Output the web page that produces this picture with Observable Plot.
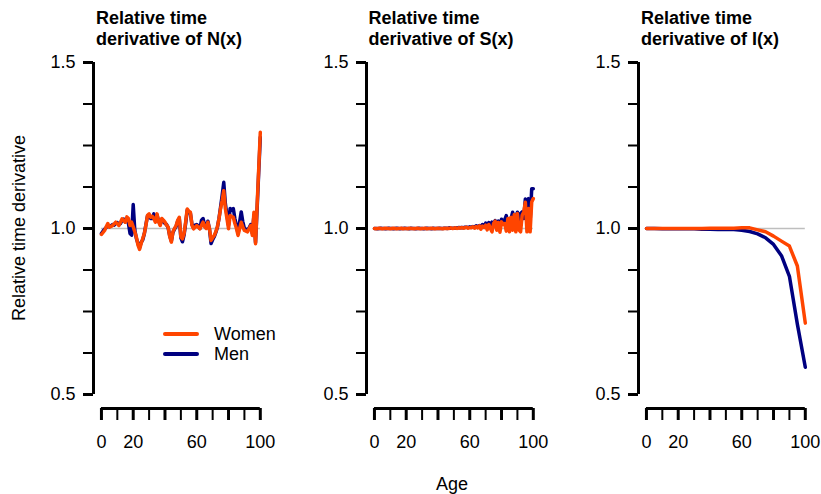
<!DOCTYPE html>
<html>
<head>
<meta charset="utf-8">
<script src="https://cdn.jsdelivr.net/npm/d3@7"></script>
<script src="https://cdn.jsdelivr.net/npm/@observablehq/plot@0.6"></script>
<style>
  body { margin: 0; background: #fff; }
  #wrap { position: relative; width: 821px; height: 494px; overflow: hidden; background: #fff;
          font-family: "Liberation Sans", Arial, sans-serif; color: #000; }
  .panel { position: absolute; top: 0; }
  .title { position: absolute; top: 8px; font-weight: bold; font-size: 18px; line-height: 21px; white-space: nowrap; }
  .ylab { position: absolute; left: 19px; top: 228px; font-size: 18px; line-height: 18px; white-space: nowrap;
          transform: translate(-50%, -50%) rotate(-90deg); }
  .xlab { position: absolute; left: 452px; top: 475px; font-size: 18px; line-height: 18px; transform: translateX(-50%); }
  .leg { position: absolute; font-size: 18px; line-height: 18px; white-space: nowrap; }
  .leg span.ln { position: absolute; left: 0; top: 7px; width: 36px; height: 0; border-top: 4px solid; border-radius: 2px; }
  .leg span.tx { position: absolute; left: 51px; top: 0; }
</style>
</head>
<body>
<div id="wrap"></div>
<script>
// ---------------- data ----------------
const ages = d3.range(0, 101);          // single-year ages, panels N and S
const ages5 = d3.range(0, 101, 5);      // five-year ages, panel I

const nWomen = [
  0.982,0.988,0.994,1.005,1.015,1.004,1.006,1.009,1.014,1.019,
  1.014,1.009,1.019,1.029,1.024,1.019,1.035,1.030,1.009,1.019,
  1.005,0.990,0.974,0.950,0.937,0.955,0.970,0.985,1.010,1.040,
  1.044,1.034,1.037,1.030,1.019,1.044,1.020,1.009,1.030,1.025,
  1.019,1.010,1.004,0.975,0.959,0.990,1.000,1.009,1.025,1.034,
  0.975,0.969,0.984,1.020,1.059,1.052,1.049,1.010,0.999,1.004,
  1.009,1.004,0.999,1.010,1.019,1.005,1.000,1.019,1.000,0.964,
  0.972,0.979,0.990,1.005,1.030,1.060,1.085,1.114,1.060,1.030,
  0.999,1.039,1.036,1.034,1.015,1.000,0.979,1.000,1.019,1.005,
  0.994,0.992,0.990,1.000,1.009,0.979,1.049,0.954,1.070,1.180,
  1.290
];
const nMen = [
  0.985,0.992,0.998,1.003,1.010,1.005,1.008,1.012,1.010,1.016,
  1.018,1.012,1.015,1.025,1.028,1.020,1.030,1.015,0.985,0.980,
  1.072,0.995,0.970,0.955,0.942,0.958,0.966,0.984,1.012,1.038,
  1.040,1.030,1.030,1.044,1.025,1.040,1.022,1.012,1.028,1.022,
  1.015,1.012,1.002,0.978,0.962,0.988,0.998,1.006,1.022,1.030,
  0.972,0.960,0.980,1.015,1.055,1.050,1.045,1.012,1.002,1.010,
  1.012,1.008,1.000,1.025,1.030,1.008,1.004,1.022,0.998,0.955,
  0.966,0.975,0.988,1.004,1.030,1.065,1.100,1.139,1.075,1.040,
  1.010,1.060,1.055,1.060,1.030,1.008,0.985,1.020,1.050,1.020,
  1.000,0.998,0.995,1.002,1.012,0.985,1.040,0.958,1.060,1.170,
  1.275
];
const sWomen = [
  1.000,0.999,1.000,1.001,1.000,0.999,1.000,1.001,1.000,1.000,
  0.999,1.000,1.001,1.000,0.999,1.000,1.000,1.001,0.999,1.000,
  1.000,0.999,1.001,1.000,1.000,0.999,1.000,1.001,1.000,0.999,
  1.000,1.000,1.001,0.999,1.000,1.000,1.001,1.000,0.999,1.000,
  1.001,1.000,1.000,0.999,1.001,1.000,1.001,1.000,1.002,1.000,
  1.001,1.002,1.000,1.002,1.001,1.003,1.001,1.002,1.004,1.001,
  1.003,1.002,1.005,1.001,1.006,1.002,1.008,0.998,1.007,1.003,
  1.010,0.996,1.012,1.000,0.990,1.015,1.022,0.995,1.018,0.989,
  1.020,1.012,1.015,0.992,1.030,0.990,1.034,0.995,1.042,0.990,
  1.045,0.995,0.990,1.040,1.050,1.079,0.990,1.060,0.990,1.080,
  1.090
];
const sMen = [
  1.000,1.000,0.999,1.000,1.001,1.000,1.000,0.999,1.000,1.001,
  1.000,1.000,0.999,1.000,1.001,1.000,0.999,1.000,1.000,1.001,
  1.000,1.000,0.999,1.001,1.000,1.000,0.999,1.000,1.001,1.000,
  1.000,0.999,1.000,1.001,1.000,1.000,0.999,1.001,1.000,1.000,
  1.000,1.001,1.000,1.000,1.001,1.001,1.000,1.002,1.001,1.001,
  1.001,1.002,1.001,1.003,1.002,1.003,1.002,1.004,1.004,1.003,
  1.005,1.004,1.006,1.004,1.008,1.005,1.009,1.004,1.012,1.006,
  1.016,1.008,1.018,1.010,1.019,1.015,1.024,1.012,1.022,1.008,
  1.028,1.018,1.026,1.039,1.012,1.022,1.030,1.049,1.020,1.035,
  1.049,1.020,1.045,1.050,1.030,1.089,1.040,1.090,1.020,1.120,
  1.120
];
const iWomen = [1.000,1.000,1.000,1.000,1.000,1.000,1.000,1.000,1.001,1.001,1.001,
                1.001,1.002,1.002,0.996,0.990,0.977,0.962,0.947,0.887,0.715];
const iMen   = [1.000,1.000,0.999,0.999,0.999,0.999,0.999,0.998,0.998,0.997,0.997,
                0.997,0.995,0.991,0.984,0.972,0.952,0.918,0.856,0.712,0.582];

const panelTitles = ["Relative time\nderivative of N(x)", "Relative time\nderivative of S(x)", "Relative time\nderivative of I(x)"];
const seriesNames = ["Women", "Men"];
const yMajor = [0.5, 1.0, 1.5];
const yMinor = [0.625, 0.75, 0.875, 1.125, 1.25, 1.375];
const xMajor = [0, 20, 40, 60, 80, 100];
const xMinor = [10, 30, 50, 70, 90];
const xLabels = [0, 20, 60, 100];
const yLabel = "Relative time derivative";
const xLabelText = "Age";

// ---------------- style ----------------
const colWomen = "#FF4500";
const colMen = "#000080";
const panelLeft = [0, 272.5, 545];
const W = 276, H = 494;
const yBottom = 0.5 - 14 / 332;

const panels = [
  {x: ages, w: nWomen, m: nMen},
  {x: ages, w: sWomen, m: sMen},
  {x: ages5, w: iWomen, m: iMen}
];

const wrap = document.getElementById("wrap");

panels.forEach((p, i) => {
  const men = p.x.map((a, k) => ({age: a, v: p.m[k]}));
  const women = p.x.map((a, k) => ({age: a, v: p.w[k]}));
  const chart = Plot.plot({
    width: W, height: H,
    marginLeft: 93, marginRight: W - 259.8, marginTop: 62, marginBottom: H - 408,
    x: {domain: [-5, 100], axis: null, label: null},
    y: {domain: [yBottom, 1.5], axis: null, label: null},
    style: {fontFamily: "Liberation Sans, Arial, sans-serif", fontSize: "18px", color: "#000", background: "transparent"},
    marks: [
      Plot.ruleY([1], {x1: 0, x2: 100, stroke: "#BEBEBE", strokeWidth: 1.5}),
      Plot.line(men, {x: "age", y: "v", stroke: colMen, strokeWidth: 3.5}),
      Plot.line(women, {x: "age", y: "v", stroke: colWomen, strokeWidth: 3.5}),
      // y axis
      Plot.ruleX([-5], {y1: 0.5, y2: 1.5, stroke: "#000", strokeWidth: 3}),
      Plot.axisY(yMajor, {anchor: "left", tickSize: 10, tickPadding: 8, strokeWidth: 3, tickFormat: d3.format(".1f"), label: null, fontSize: 18}),
      Plot.axisY(yMinor, {anchor: "left", tickSize: 10, strokeWidth: 2, tickFormat: () => "", label: null}),
      // x axis
      Plot.ruleY([yBottom], {x1: 0, x2: 100, stroke: "#000", strokeWidth: 3}),
      Plot.axisX(xMajor, {anchor: "bottom", tickSize: 12, strokeWidth: 3, tickFormat: () => "", label: null}),
      Plot.axisX(xMinor, {anchor: "bottom", tickSize: 12, strokeWidth: 2, tickFormat: () => "", label: null}),
      Plot.axisX(xLabels, {anchor: "bottom", tickSize: 0, tickPadding: 27, tickFormat: d => String(d), label: null, fontSize: 18})
    ]
  });
  chart.classList.add("panel");
  chart.style.left = panelLeft[i] + "px";
  wrap.appendChild(chart);

  const t = document.createElement("div");
  t.className = "title";
  t.style.left = (panelLeft[i] + 96) + "px";
  t.innerHTML = panelTitles[i].split("\n").join("<br>");
  wrap.appendChild(t);
});

const yl = document.createElement("div");
yl.className = "ylab"; yl.textContent = yLabel; wrap.appendChild(yl);
const xl = document.createElement("div");
xl.className = "xlab"; xl.textContent = xLabelText; wrap.appendChild(xl);

[[seriesNames[0], colWomen, 325], [seriesNames[1], colMen, 345]].forEach(([name, col, top]) => {
  const d = document.createElement("div");
  d.className = "leg";
  d.style.left = "163px"; d.style.top = top + "px";
  d.innerHTML = `<span class="ln" style="border-color:${col}"></span><span class="tx">${name}</span>`;
  wrap.appendChild(d);
});
</script>
</body>
</html>
